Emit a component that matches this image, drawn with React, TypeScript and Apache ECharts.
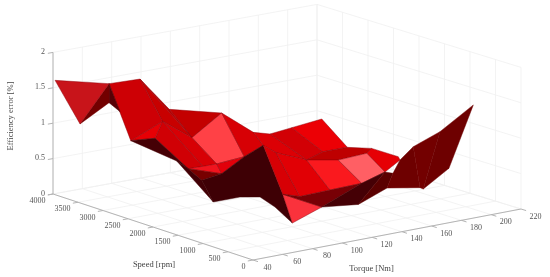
import React, { useEffect, useRef } from "react";
import * as echarts from "echarts";

const torqueTicks = [40, 60, 80, 100, 120, 140, 160, 180, 200, 220];
const speedTicks = [0, 500, 1000, 1500, 2000, 2500, 3000, 3500, 4000];
const errorTicks = [0, 0.5, 1, 1.5, 2];
const errorTickLabels = ["0", "0.5", "1", "1.5", "2"];

const nodeIds = ["A","B","C","D","E","F","G","H","I","K","M","L","W","X","U","S","Y","Z","AA","BB","CC","DD","EE","FF","R","GG","HH","II","JJ","KK","LL","MM","NN","OO","PP","QQ","RR","SS","TT","UU","N","O","P","Q","P2","VV","WW","XX","ZZ","AB","AC","AD","AG"];
const nodeTorque = [41.4,44.8,50.9,44.1,58.3,44.8,41.2,53.2,64.6,66.4,93.3,41.4,50.3,60.3,69.5,88.2,66.1,45.9,49.3,53.7,64.9,71.7,75,79.9,80.6,80.2,99.7,91.8,124.3,133.4,149,143.6,166,154.4,174.9,165.8,168,192.9,192.1,219.5,107.9,119.2,154.2,157.8,133.9,102.8,116.7,138,118.8,157.2,167.4,178.5,134.5];
const nodeSpeed = [4000,3600,3200,3000,2800,2800,2480,2200,2400,2000,2200,2000,1600,1600,1600,1600,1400,1200,1800,1200,1000,800,600,400,1000,600,400,600,400,600,600,400,800,600,800,400,400,800,600,920,2000,2000,2000,1600,2000,1400,1200,1200,800,1200,1400,1200,1400];
const nodeError = [1.6,1.064,1.703,1.507,1.833,1.424,1.103,1.396,1.474,1.159,1.357,1.248,0.876,0.869,0.868,0.898,0.79,0.823,0.942,0.486,0.558,0.578,0.47,0.27,1.227,0.629,0.418,0.551,0.356,0.573,0.671,0.511,0.727,0.631,0.88,0.428,0.4,1.021,0.552,1.267,1.073,1.006,1.082,0.758,1.038,0.943,0.831,0.747,0.49,0.767,0.751,0.635,0.833];

// back to front
const facets = [
  "I M K","E I K","E K H","K M S U","M N R S","N O WW VV R",
  "O P2 AG WW","P2 P Q AG","WW AG Q AC AB XX","AC AD NN LL AB",
  "H K U X","H X W L","G H L","C E H G","D C F","B C D","A B C",
  "G L W AA","W U Y","U S Y","W Y Z","AA W Z BB","Z Y S R GG FF EE DD CC BB",
  "R VV II GG","VV WW ZZ II","WW XX KK ZZ","XX AB LL KK",
  "GG HH FF","GG II ZZ KK HH","HH KK LL JJ","JJ LL OO MM","MM OO NN PP QQ","QQ PP SS RR","RR SS UU TT",
];
const facetColors = [
  "#c30000","#bb0000","#c80000","#ff4146","#d70005","#dc0005",
  "#d20005","#ec0005","#be0000","#e60005",
  "#d70005","#d00005","#e60005","#cd0005","#580005","#720000","#c8141a",
  "#450005","#f0141e","#e1000a","#780000","#420005","#3e0005",
  "#d70005","#e10005","#fa191e","#ff5f64",
  "#fa323c","#780005","#450005","#5a0000","#6e0000","#730000","#6e0000",
];

const SERIF = "'Liberation Serif', 'Times New Roman', serif";

function project(torque: number, speed: number, error: number): [number, number] {
  const t = (torque - 40) / 180;
  const s = speed / 4000;
  return [253 + 268 * t - 200 * s - 4 * t * s, 260 - 51 * t - 66 * s + 3 * t * s - 70.8 * error];
}

type Seg = [number, number, number, number, number, number, string];
const GRID = "#f0f0f0";
const AXIS = "#b4b4b4";

function buildSegments(): Seg[] {
  const segs: Seg[] = [];
  const [t0, t1] = [torqueTicks[0], torqueTicks[torqueTicks.length - 1]];
  const [s0, s1] = [speedTicks[0], speedTicks[speedTicks.length - 1]];
  const zTop = errorTicks[errorTicks.length - 1];
  for (const tq of torqueTicks) {
    segs.push([tq, s0, 0, tq, s1, 0, GRID]);
    segs.push([tq, s1, 0, tq, s1, zTop, GRID]);
  }
  for (const sp of speedTicks) {
    segs.push([t0, sp, 0, t1, sp, 0, GRID]);
    segs.push([t1, sp, 0, t1, sp, zTop, GRID]);
  }
  for (const z of errorTicks) {
    segs.push([t0, s1, z, t1, s1, z, GRID]);
    segs.push([t1, s1, z, t1, s0, z, GRID]);
  }
  segs.push([t0, s1, 0, t0, s1, zTop, AXIS]);
  segs.push([t0, s0, 0, t0, s1, 0, AXIS]);
  segs.push([t0, s0, 0, t1, s0, 0, AXIS]);
  for (const tq of torqueTicks) segs.push([tq, s0, 0, tq, s0 - 100, 0, AXIS]);
  for (const sp of speedTicks) segs.push([t0, sp, 0, t0 - 3.5, sp, 0, AXIS]);
  for (const z of errorTicks) segs.push([t0, s1, z, t0 - 3.5, s1, z, AXIS]);
  return segs;
}

type Lab = { text: string; pos: [number, number]; dx: number; dy: number; align: string };
function buildLabels(): Lab[] {
  const labs: Lab[] = [];
  speedTicks.forEach((sp) => labs.push({ text: String(sp), pos: project(40, sp, 0), dx: -7.5, dy: 6.5, align: "right" }));
  torqueTicks.forEach((tq) => labs.push({ text: String(tq), pos: project(tq, 0, 0), dx: 14.5, dy: 7, align: "center" }));
  errorTicks.forEach((z, i) => labs.push({ text: errorTickLabels[i], pos: project(40, 4000, z), dx: -8, dy: -1, align: "right" }));
  return labs;
}

function edgeColor(fill: string): string {
  const r = parseInt(fill.slice(1, 3), 16);
  return r < 130 ? fill : "#8a0008";
}

export default function App() {
  const ref = useRef<HTMLDivElement>(null);
  useEffect(() => {
    document.body.style.margin = "0";
    const chart = echarts.init(ref.current!, undefined, { renderer: "svg" });
    const segs = buildSegments();
    const labs = buildLabels();
    const facetNodes = facets.map((f) => f.split(" ").map((id) => nodeIds.indexOf(id)));
    const titles = [
      { text: "Speed [rpm]", x: 154, y: 264, rotation: 0 },
      { text: "Torque [Nm]", x: 371.5, y: 267.5, rotation: 0 },
      { text: "Efficiency error [%]", x: 10, y: 116, rotation: Math.PI / 2 },
    ];
    chart.setOption({
      animation: false,
      backgroundColor: "#ffffff",
      grid: { left: 0, right: 0, top: 0, bottom: 0 },
      xAxis: { type: "value", min: 0, max: 550, show: false },
      yAxis: { type: "value", min: 0, max: 277, inverse: true, show: false },
      tooltip: { show: false },
      series: [
        {
          type: "custom",
          silent: true,
          data: segs.map((_, i) => [i, 0]),
          renderItem: (p: any, api: any) => {
            const g = segs[p.dataIndex];
            const a = api.coord(project(g[0], g[1], g[2]));
            const b = api.coord(project(g[3], g[4], g[5]));
            return {
              type: "line",
              shape: { x1: a[0], y1: a[1], x2: b[0], y2: b[1] },
              style: { stroke: g[6], lineWidth: g[6] === AXIS ? 1 : 0.8 },
            };
          },
        },
        {
          type: "custom",
          silent: true,
          z: 3,
          data: facetNodes.map((_, i) => [i, 0]),
          renderItem: (p: any, api: any) => {
            const pts = facetNodes[p.dataIndex].map((n) =>
              api.coord(project(nodeTorque[n], nodeSpeed[n], nodeError[n]))
            );
            const c = facetColors[p.dataIndex];
            return {
              type: "polygon",
              shape: { points: pts },
              style: { fill: c, stroke: edgeColor(c), lineWidth: 0.45, lineJoin: "round" },
            };
          },
        },
        {
          type: "custom",
          silent: true,
          z: 4,
          data: labs.map((_, i) => [i, 0]),
          renderItem: (p: any, api: any) => {
            const l = labs[p.dataIndex];
            const c = api.coord(l.pos);
            return {
              type: "text",
              x: c[0] + l.dx,
              y: c[1] + l.dy,
              style: { text: l.text, fontFamily: SERIF, fontSize: 8, fill: "#555555", align: l.align, verticalAlign: "middle" },
            };
          },
        },
        {
          type: "custom",
          silent: true,
          z: 4,
          data: titles.map((_, i) => [i, 0]),
          renderItem: (p: any, api: any) => {
            const l = titles[p.dataIndex];
            const c = api.coord([l.x, l.y]);
            return {
              type: "text",
              x: c[0],
              y: c[1],
              rotation: l.rotation,
              style: { text: l.text, fontFamily: SERIF, fontSize: 8.5, fill: "#444444", align: "center", verticalAlign: "middle" },
            };
          },
        },
      ],
    });
    return () => chart.dispose();
  }, []);
  return <div ref={ref} style={{ width: 550, height: 277, filter: "blur(0.45px)" }} />;
}
